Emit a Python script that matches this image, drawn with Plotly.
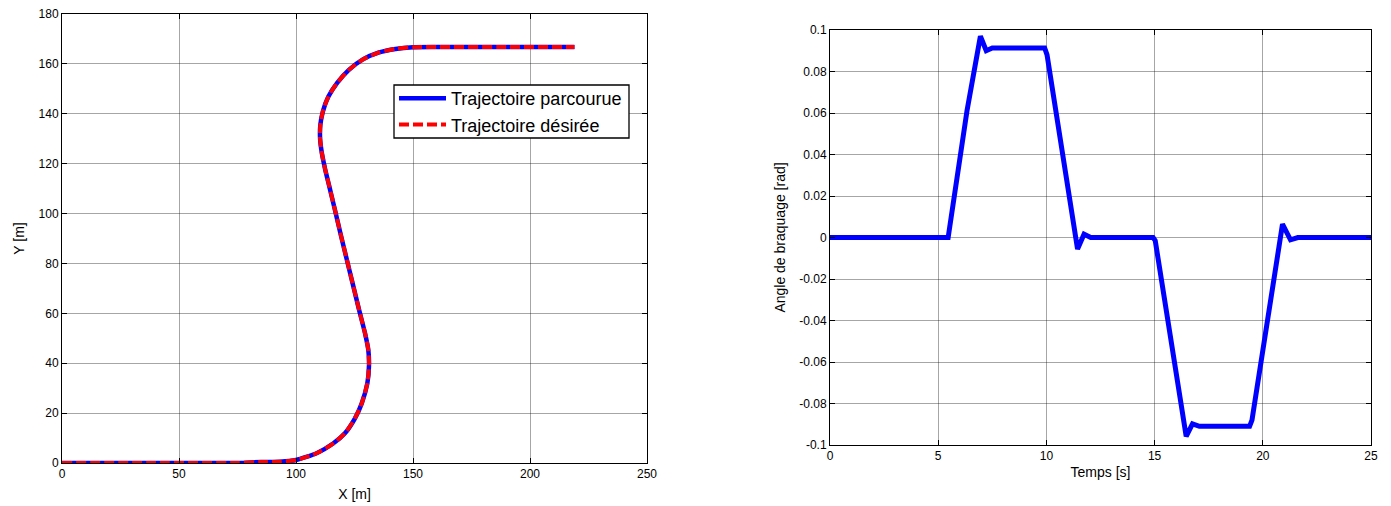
import plotly.graph_objects as go

# Trajectory (X, Y) in metres
traj_x = [0, 40, 75, 85, 93.2, 100, 108.8, 116, 120.9, 125.2, 128.1, 130.5, 131.2, 130.9, 129.5,
          126.8, 124.2, 121.6, 119.0, 116.5, 114.2, 112.4, 111.0, 110.3, 110.4, 111.5, 113.8, 117.6,
          122.6, 128.6, 135.5, 142.5, 150.0, 160, 190, 219]
traj_y = [0, 0, 0, 0.4, 0.5, 1.2, 3.9, 7.9, 11.9, 17.9, 23.9, 32, 39.3, 45.3, 52,
          62, 72, 82, 92, 102, 111, 118, 124.5, 130, 135.5, 141, 146.8, 152.4,
          157.6, 161.8, 164.6, 166.0, 166.7, 166.8, 166.8, 166.8]

# Steering angle vs time
t_s = [0, 5.46, 6.33, 6.95, 7.22, 7.5, 8.2, 9.92, 10.03, 11.44, 11.74, 12.05, 14.93, 15.03,
       16.46, 16.75, 17.07, 19.39, 19.5, 20.91, 21.28, 21.62, 25]
angle = [0, 0, 0.061, 0.097, 0.090, 0.0913, 0.0913, 0.0913, 0.088, -0.0056, 0.0016, 0, 0, -0.0015,
         -0.0958, -0.0898, -0.091, -0.091, -0.088, 0.0064, -0.0011, 0, 0]

xl_ticks = [0, 50, 100, 150, 200, 250]
yl_ticks = [0, 20, 40, 60, 80, 100, 120, 140, 160, 180]
xr_ticks = [0, 5, 10, 15, 20, 25]
yr_ticks = [0.1, 0.08, 0.06, 0.04, 0.02, 0, -0.02, -0.04, -0.06, -0.08, -0.1]
yr_labels = ["0.1", "0.08", "0.06", "0.04", "0.02", "0", "-0.02", "-0.04", "-0.06", "-0.08", "-0.1"]

FONT = "Liberation Sans, Arial, sans-serif"
W, H = 1391, 506

fig = go.Figure()
fig.add_trace(go.Scatter(x=traj_x, y=traj_y, mode="lines", name="Trajectoire parcourue",
                         line=dict(color="#0000ff", width=4.5, shape="spline", smoothing=0.6),
                         xaxis="x", yaxis="y"))
fig.add_trace(go.Scatter(x=traj_x, y=traj_y, mode="lines", name="Trajectoire désirée",
                         line=dict(color="#ff0000", width=4, dash="10px,4px", shape="spline", smoothing=0.6),
                         xaxis="x", yaxis="y"))
fig.add_trace(go.Scatter(x=t_s, y=angle, mode="lines", showlegend=False,
                         line=dict(color="#0000ff", width=5),
                         xaxis="x2", yaxis="y2"))

axcommon = dict(showline=True, linecolor="black", linewidth=1, mirror="allticks", ticks="inside",
                ticklen=5, tickcolor="black", showgrid=True, gridcolor="rgba(0,0,0,0.35)", gridwidth=1,
                zeroline=False, automargin=False,
                tickfont=dict(family=FONT, size=12, color="black"))

fig.update_layout(
    width=W, height=H,
    margin=dict(l=0, r=0, t=0, b=0),
    paper_bgcolor="white", plot_bgcolor="white",
    font=dict(family=FONT, color="black"),
    xaxis=dict(domain=[62/W, 647/W], range=[0, 250], tickvals=xl_ticks,
               title=dict(text="X [m]", font=dict(size=14), standoff=8), anchor="y", **axcommon),
    yaxis=dict(domain=[43/H, 492/H], range=[0, 180], tickvals=yl_ticks,
               title=dict(text="Y [m]", font=dict(size=14), standoff=10), anchor="x", **axcommon),
    xaxis2=dict(domain=[830/W, 1371/W], range=[0, 25], tickvals=xr_ticks,
                title=dict(text="Temps [s]", font=dict(size=14), standoff=4), anchor="y2", **axcommon),
    yaxis2=dict(domain=[61/H, 476/H], range=[-0.1, 0.1], tickvals=yr_ticks, ticktext=yr_labels,
                title=dict(text="Angle de braquage [rad]", font=dict(size=14), standoff=10), anchor="x2",
                **axcommon),
    legend=dict(x=394/W, y=1 - 80/H, xanchor="left", yanchor="top", bgcolor="rgba(0,0,0,0)",
                borderwidth=0, font=dict(family=FONT, size=18),
                itemwidth=47, tracegroupgap=0),
    shapes=[dict(type="rect", xref="paper", yref="paper", x0=394/W, x1=629/W,
                 y0=1 - 138/H, y1=1 - 85/H, fillcolor="white",
                 line=dict(color="black", width=1.3), layer="above")],
)

fig.write_html("out.html", config={"displayModeBar": False},
               post_script="document.body.style.margin='0';")
